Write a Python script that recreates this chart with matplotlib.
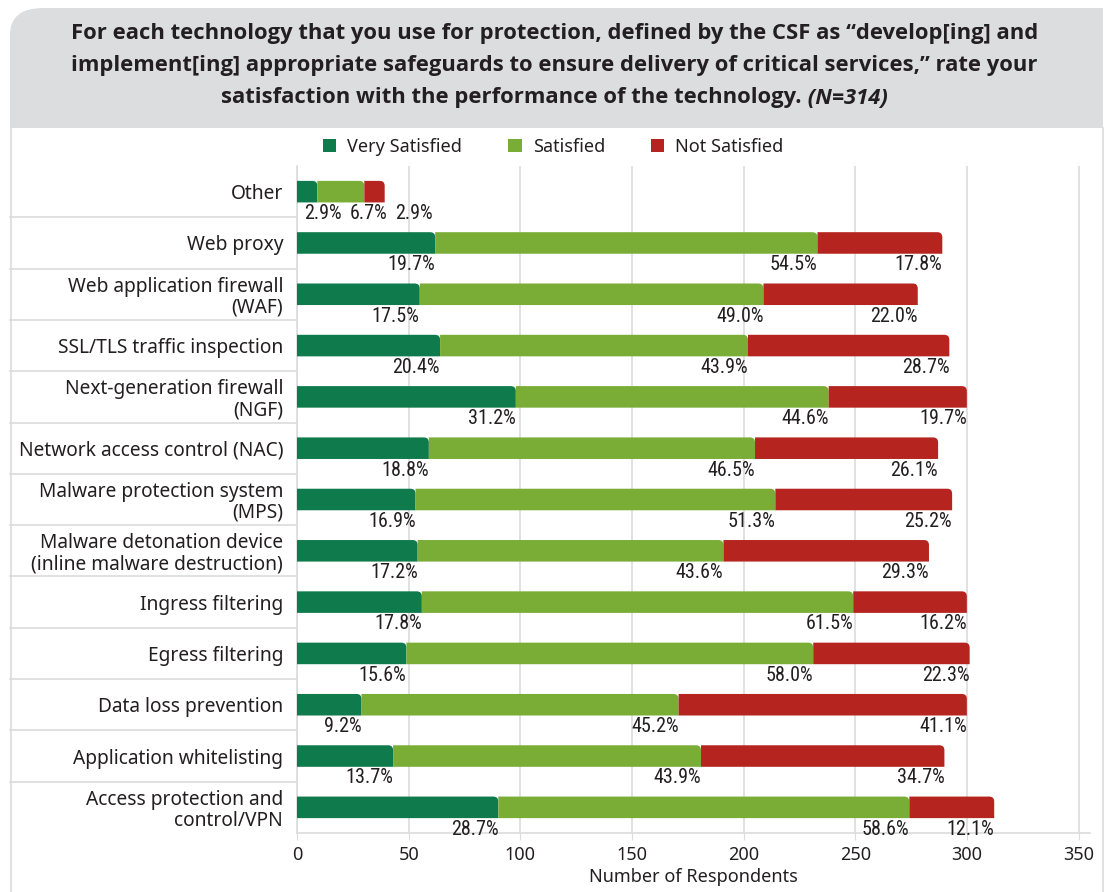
import matplotlib
matplotlib.use("Agg")
import matplotlib.pyplot as plt
import matplotlib.transforms as mtransforms
from matplotlib.patches import PathPatch, FancyBboxPatch, Rectangle
from matplotlib.path import Path
import numpy as np

plt.rcParams['font.family'] = ['Noto Sans', 'DejaVu Sans']

N = 314
categories = [
    "Other",
    "Web proxy",
    "Web application firewall\n(WAF)",
    "SSL/TLS traffic inspection",
    "Next-generation firewall\n(NGF)",
    "Network access control (NAC)",
    "Malware protection system\n(MPS)",
    "Malware detonation device\n(inline malware destruction)",
    "Ingress filtering",
    "Egress filtering",
    "Data loss prevention",
    "Application whitelisting",
    "Access protection and\ncontrol/VPN",
]
very_satisfied = [2.9, 19.7, 17.5, 20.4, 31.2, 18.8, 16.9, 17.2, 17.8, 15.6, 9.2, 13.7, 28.7]
satisfied = [6.7, 54.5, 49.0, 43.9, 44.6, 46.5, 51.3, 43.6, 61.5, 58.0, 45.2, 43.9, 58.6]
not_satisfied = [2.9, 17.8, 22.0, 28.7, 19.7, 26.1, 25.2, 29.3, 16.2, 22.3, 41.1, 34.7, 12.1]
series_names = ["Very Satisfied", "Satisfied", "Not Satisfied"]
colors = ["#0f7a4c", "#7aad36", "#b5241f"]
xticks = [0, 50, 100, 150, 200, 250, 300, 350]
title_lines = [
    "For each technology that you use for protection, defined by the CSF as \u201cdevelop[ing] and",
    "implement[ing] appropriate safeguards to ensure delivery of critical services,\u201d rate your",
    "satisfaction with the performance of the technology.",
]
title_n = " (N=314)"

W, H = 1109, 892
fig = plt.figure(figsize=(W / 100, H / 100), dpi=100)
fig.patch.set_facecolor("white")
renderer = fig.canvas.get_renderer()

# header box
grey = "#dcdddf"
fig.patches.append(FancyBboxPatch((10 / W, 1 - 128 / H), 1093 / W, 120 / H,
                                  boxstyle="round,pad=0,rounding_size=0.03",
                                  transform=fig.transFigure, facecolor=grey,
                                  edgecolor="none", zorder=0))
fig.patches.append(Rectangle((1050 / W, 1 - 128 / H), 53 / W, 120 / H, transform=fig.transFigure,
                             facecolor=grey, edgecolor="none", zorder=0))
fig.patches.append(Rectangle((10 / W, 1 - 128 / H), 1093 / W, 40 / H, transform=fig.transFigure,
                             facecolor=grey, edgecolor="none", zorder=0))
for xb in (10.5, 1102.5):
    fig.add_artist(plt.Line2D([xb / W, xb / W], [0, 1 - 128 / H], transform=fig.transFigure,
                              color="#dcdcdc", lw=1.2))

title_font = dict(fontsize=15.8, fontweight="bold", color="#231f20",
                  fontfamily=["Open Sans", "DejaVu Sans"])
title_y = [34, 66, 98]
for k in range(2):
    fig.text(0.5, 1 - title_y[k] / H, title_lines[k], ha="center", va="center", **title_font)
t1 = fig.text(0, 1 - title_y[2] / H, title_lines[2], ha="left", va="center", **title_font)
t2 = fig.text(0, 1 - title_y[2] / H, title_n, ha="left", va="center", fontstyle="italic", **title_font)
w1 = t1.get_window_extent(renderer).width
w2 = t2.get_window_extent(renderer).width
x_start = (W - w1 - w2) / 2
t1.set_x(x_start / W)
t2.set_x((x_start + w1) / W)

ax = fig.add_axes([297 / W, 1 - 833 / H, (1090 - 297) / W, (833 - 166) / H])
n = len(categories)
ypos = np.arange(n)[::-1].astype(float)
bar_h = 0.42
ax.set_ylim(-0.5, n - 0.5)
ax.set_xlim(0, 355)

px_x = (1090 - 297) / 355.0
px_y = (833 - 166) / n
rx = 5 / px_x
ry = 5 / px_y


def seg_path(x0, x1, yc, h):
    yb, yt = yc - h / 2, yc + h / 2
    r = min(rx, (x1 - x0))
    verts = [(x0, yb), (x1, yb), (x1, yt - ry), (x1, yt), (x1 - r, yt), (x0, yt), (x0, yb)]
    codes = [Path.MOVETO, Path.LINETO, Path.LINETO, Path.CURVE3, Path.CURVE3, Path.LINETO, Path.CLOSEPOLY]
    return Path(verts, codes)


data = [very_satisfied, satisfied, not_satisfied]
for i in range(n):
    left = 0.0
    prev_right = -1e9
    for s in range(3):
        val = data[s][i] * N / 100.0
        ax.add_patch(PathPatch(seg_path(left, left + val, ypos[i], bar_h),
                               facecolor=colors[s], edgecolor="none", zorder=3 + s))
        left += val
        t = ax.text(left, ypos[i] - bar_h / 2 - 0.03, f"{data[s][i]:.1f}%",
                    ha="right", va="top", fontsize=14.5, color="#231f20",
                    fontfamily=["Roboto Condensed", "Liberation Sans Narrow", "DejaVu Sans"],
                    fontstretch="condensed", zorder=6)
        wdat = t.get_window_extent(renderer).width / px_x
        right = max(left, wdat + 3.0, prev_right + 8 / px_x + wdat)
        t.set_x(right)
        prev_right = right

for s in range(3):
    ax.barh([0], [0], color=colors[s], label=series_names[s])
leg = ax.legend(loc="lower left", bbox_to_anchor=(16 / (1090 - 297), 1.0), ncol=3, frameon=False,
                fontsize=13, handlelength=0.75, handleheight=0.75, handletextpad=0.6,
                columnspacing=2.55, borderaxespad=0.15)
for txt in leg.get_texts():
    txt.set_color("#231f20")

ax.set_xticks(xticks)
ax.set_yticks(ypos)
ax.set_yticklabels(categories, fontsize=13.8, color="#231f20", linespacing=1.05)
ax.tick_params(axis="y", length=0, pad=10)
ax.tick_params(axis="x", length=5, color="#dcdcdc", labelsize=13, labelcolor="#231f20", pad=4)
ax.grid(axis="x", color="#dcdcdc", lw=1.2, zorder=0)
ax.set_axisbelow(True)
for side in ("top", "right"):
    ax.spines[side].set_visible(False)
for side in ("left", "bottom"):
    ax.spines[side].set_color("#dcdcdc")
    ax.spines[side].set_linewidth(1.2)
ax.set_xlabel("Number of Respondents", fontsize=13, color="#231f20", labelpad=3)

# category separator lines reaching the left border
trans = mtransforms.blended_transform_factory(fig.transFigure, ax.transData)
for k in range(n - 1):
    ax.plot([10 / W, 297 / W], [k + 0.5, k + 0.5], transform=trans, color="#dcdcdc", lw=1.2,
            clip_on=False, zorder=1)

fig.savefig("out.png", dpi=100)
